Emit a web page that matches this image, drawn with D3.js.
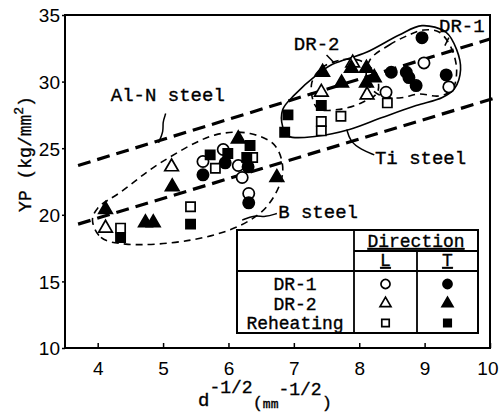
<!DOCTYPE html>
<html>
<head>
<meta charset="utf-8">
<style>
  body { margin: 0; background: #fff; }
  text { fill: #000; }
  .mono { font-family: "Liberation Mono", "Courier New", monospace; stroke: #000; stroke-width: 0.35px; }
  .tick-label { font-family: "Liberation Sans", Arial, sans-serif; font-size: 19px; }
</style>
</head>
<body>
<div id="chart"></div>
<script src="https://cdn.jsdelivr.net/npm/d3@7"></script>
<script>
var width = 499, height = 412;
var margin = {left: 65, right: 9, top: 15, bottom: 64};

// measured points [d^-1/2, YP]
var dr1L = [[5.61,24.0],[5.92,24.9],[6.15,23.7],[6.21,22.8],[6.31,21.6],[8.41,29.2],[8.99,31.4],[9.37,29.6]];
var dr1T = [[5.61,23.0],[5.95,23.9],[6.30,23.6],[6.31,20.9],[8.96,33.3],[8.49,30.7],[8.72,30.7],[8.76,30.3],[8.87,29.7],[9.33,30.5]];
var dr2L = [[5.13,23.6],[4.12,19.0],[7.90,31.4],[7.42,29.2],[8.12,29.0]];
var dr2T = [[5.14,22.1],[4.12,20.4],[4.73,19.4],[4.85,19.4],[6.15,25.7],[6.74,22.8],[7.44,30.7],[7.88,31.0],[8.11,31.0],[8.23,30.3],[7.73,29.9],[8.11,29.9]];
var rehL = [[4.35,19.0],[5.42,20.6],[6.37,24.3],[5.80,23.5],[7.42,27.0],[7.42,26.3],[7.72,27.4],[8.43,28.4]];
var rehT = [[4.35,18.3],[5.42,19.3],[5.72,24.5],[5.99,24.6],[6.33,25.2],[6.28,24.3],[7.42,28.2],[6.91,27.5],[6.86,26.2]];

// reference lines
var alnLine = [[3.7,23.7],[10.0,33.2]];
var lowLine = [[3.7,19.3],[10.1,28.8]];

// outlines of the groups
var bLoop = [[3.92,19.6],[4.05,18.3],[4.43,17.8],[5.42,18.1],[6.18,19.2],[6.60,20.7],[6.83,23.2],[6.71,25.2],[6.33,26.1],[5.80,26.0],[4.96,23.9],[4.35,21.7],[4.0,20.5]];
var dr2Loop = [[7.27,29.8],[7.42,31.0],[7.70,31.6],[8.00,31.6],[8.25,30.6],[8.28,29.2],[8.03,28.4],[7.67,27.9],[7.36,28.0]];
var dr1Loop = [[8.16,31.6],[8.46,32.75],[8.76,33.5],[8.99,33.87],[9.22,33.72],[9.40,32.6],[9.49,30.87],[9.42,29.37],[9.22,28.92],[8.92,29.07],[8.61,28.77],[8.31,28.99],[8.12,29.97]];
var tiLoop = [[6.83,27.9],[6.83,26.6],[6.92,25.9],[7.35,25.9],[7.85,26.4],[8.35,27.3],[8.87,28.2],[9.27,28.8],[9.46,29.5],[9.55,30.9],[9.49,32.4],[9.33,33.7],[8.96,34.2],[8.61,33.5],[8.11,32.2],[7.59,31.3],[7.35,30.5],[7.01,29.0]];

// leaders
var alnLeader = [[5.04,27.6],[4.99,26.9],[5.01,26.3],[4.93,25.4]];
var dr2Leader = [[7.50,32.0],[7.62,31.4]];
var dr1Leader = [[9.37,33.3],[9.31,32.7]];
var tiLeader = [[7.81,26.4],[7.86,25.5],[8.03,24.9],[8.23,24.5]];
var bLeader = [[6.21,19.6],[6.40,20.0],[6.56,19.8],[6.74,20.1]];

var xTicks = [4,5,6,7,8,9,10];
var yTicks = [10,15,20,25,30,35];

var svg = d3.select("#chart").append("svg")
    .attr("width", width)
    .attr("height", height);

var x = d3.scaleLinear().domain([3.5, 10]).range([margin.left, width - margin.right]);
var y = d3.scaleLinear().domain([10, 35]).range([height - margin.bottom, margin.top]);

var line = d3.line().x(function(d){ return x(d[0]); }).y(function(d){ return y(d[1]); });
var loop = d3.line().x(function(d){ return x(d[0]); }).y(function(d){ return y(d[1]); })
    .curve(d3.curveCatmullRomClosed);
var wiggle = d3.line().x(function(d){ return x(d[0]); }).y(function(d){ return y(d[1]); })
    .curve(d3.curveBasis);

// frame
svg.append("rect")
   .attr("x", x(3.5)).attr("y", y(35))
   .attr("width", x(10) - x(3.5)).attr("height", y(10) - y(35))
   .attr("fill", "none").attr("stroke", "#000").attr("stroke-width", 2);

// axes
var xAxis = d3.axisBottom(x).tickValues(xTicks).tickSize(-5).tickPadding(14).tickFormat(d3.format("d"));
var yAxis = d3.axisLeft(y).tickValues(yTicks).tickSize(3).tickPadding(2).tickFormat(d3.format("d"));

svg.append("g").attr("transform", "translate(0," + y(10) + ")").call(xAxis)
   .call(function(g){
     g.select(".domain").remove();
     g.selectAll("text").attr("class","tick-label");
     g.selectAll("line").attr("stroke-width",1.5);
     // last label sits at the page edge
     g.selectAll(".tick text").filter(function(d){ return d === 10; })
      .attr("text-anchor","end").attr("x", width - x(10) - 1);
   });
svg.append("g").attr("transform", "translate(" + x(3.5) + ",0)").call(yAxis)
   .call(function(g){ g.select(".domain").remove(); g.selectAll("text").attr("class","tick-label").attr("dy","0.36em"); g.selectAll("line").attr("stroke-width",1.5); });

// thick dashed lines
[alnLine, lowLine].forEach(function(l){
  svg.append("path").attr("d", line(l))
     .attr("fill","none").attr("stroke","#000").attr("stroke-width",3.2)
     .attr("stroke-dasharray","13,7");
});

// thin dashed outlines
[bLoop, dr2Loop, dr1Loop].forEach(function(l){
  svg.append("path").attr("d", loop(l))
     .attr("fill","none").attr("stroke","#000").attr("stroke-width",1.6)
     .attr("stroke-dasharray","7,5");
});
svg.append("path").attr("d", loop(tiLoop))
   .attr("fill","none").attr("stroke","#000").attr("stroke-width",1.6);

[alnLeader, dr2Leader, dr1Leader, tiLeader, bLeader].forEach(function(l){
  svg.append("path").attr("d", wiggle(l))
     .attr("fill","none").attr("stroke","#000").attr("stroke-width",1.5);
});

// markers
var series = [
  {data: dr1L, shape: d3.symbolCircle, fill: false},
  {data: dr1T, shape: d3.symbolCircle, fill: true},
  {data: dr2L, shape: d3.symbolTriangle, fill: false},
  {data: dr2T, shape: d3.symbolTriangle, fill: true},
  {data: rehL, shape: d3.symbolSquare, fill: false},
  {data: rehT, shape: d3.symbolSquare, fill: true}
];
var sizeOf = function(shape, k){
  if (shape === d3.symbolCircle) return 100 * k;
  if (shape === d3.symbolTriangle) return 80 * k;
  return 85 * k;
};

series.forEach(function(s){
  svg.append("g").selectAll("path")
     .data(s.data)
     .enter().append("path")
     .attr("transform", function(d){ return "translate(" + x(d[0]) + "," + y(d[1]) + ")"; })
     .attr("d", d3.symbol().type(s.shape).size(sizeOf(s.shape, 1)))
     .attr("fill", s.fill ? "#000" : "#fff")
     .attr("stroke", "#000").attr("stroke-width", 1.7);
});

// annotations
var labels = [
  {t: "Al-N steel", p: [4.2, 28.55]},
  {t: "DR-2", p: [7.0, 32.4]},
  {t: "DR-1", p: [9.22, 33.75]},
  {t: "Ti steel", p: [8.24, 23.85]},
  {t: "B steel", p: [6.76, 19.75]}
];
svg.append("g").selectAll("text")
   .data(labels).enter().append("text")
   .attr("class","mono")
   .attr("x", function(d){ return x(d.p[0]); })
   .attr("y", function(d){ return y(d.p[1]); })
   .style("font-size","19px")
   .text(function(d){ return d.t; });

// legend table
var rowNames = ["DR-1","DR-2","Reheating"];
var rowShapes = [d3.symbolCircle, d3.symbolTriangle, d3.symbolSquare];
var tb = {x0: 237, x1: 354, x2: 417, x3: 478, y0: 230, y1: 251, y2: 271, y3: 333};
var leg = svg.append("g");
leg.append("rect").attr("x", tb.x0).attr("y", tb.y0)
   .attr("width", tb.x3 - tb.x0).attr("height", tb.y3 - tb.y0)
   .attr("fill","#fff").attr("stroke","#000").attr("stroke-width",2);
[[tb.x0,tb.y2,tb.x3,tb.y2],[tb.x1,tb.y1,tb.x3,tb.y1],[tb.x1,tb.y0,tb.x1,tb.y3],[tb.x2,tb.y1,tb.x2,tb.y3]].forEach(function(s){
  leg.append("line").attr("x1",s[0]).attr("y1",s[1]).attr("x2",s[2]).attr("y2",s[3])
     .attr("stroke","#000").attr("stroke-width",1.8);
});
leg.append("text").attr("class","mono").attr("x",(tb.x1+tb.x3)/2).attr("y",247)
   .attr("text-anchor","middle").style("font-size","18px").style("text-decoration","underline").text("Direction");
leg.append("text").attr("class","mono").attr("x",(tb.x1+tb.x2)/2).attr("y",266)
   .attr("text-anchor","middle").style("font-size","18px").style("text-decoration","underline").text("L");
leg.append("text").attr("class","mono").attr("x",(tb.x2+tb.x3)/2).attr("y",266)
   .attr("text-anchor","middle").style("font-size","18px").style("text-decoration","underline").text("T");
rowNames.forEach(function(n, i){
  var cy = 284 + i * 19.5;
  leg.append("text").attr("class","mono").attr("x", 295).attr("y", cy + 6)
     .attr("text-anchor","middle").style("font-size","18px").text(n);
  [false, true].forEach(function(f, j){
    leg.append("path")
       .attr("transform","translate(" + (j ? (tb.x2+tb.x3)/2 : (tb.x1+tb.x2)/2) + "," + cy + ")")
       .attr("d", d3.symbol().type(rowShapes[i]).size(sizeOf(rowShapes[i], 0.65)))
       .attr("fill", f ? "#000" : "#fff").attr("stroke","#000").attr("stroke-width",1.7);
  });
});

// axis titles
var xt = svg.append("text").attr("class","mono").attr("x", 198).attr("y", 406).style("font-size","19px");
xt.append("tspan").text("d");
xt.append("tspan").attr("dy",-13).style("font-size","18px").text("-1/2");
xt.append("tspan").attr("dy",15).style("font-size","17px").text("(");
xt.append("tspan").style("font-size","13px").text("mm");
xt.append("tspan").attr("dy",-13).style("font-size","18px").text("-1/2");
xt.append("tspan").attr("dy",13).style("font-size","17px").text(")");

var yt = svg.append("text").attr("class","mono")
   .attr("transform","translate(31,154) rotate(-90)")
   .attr("text-anchor","middle").style("font-size","18px");
yt.append("tspan").text("YP (kg/mm");
yt.append("tspan").attr("dy",-8).style("font-size","13px").text("2");
yt.append("tspan").attr("dy",8).text(")");
</script>
</body>
</html>
